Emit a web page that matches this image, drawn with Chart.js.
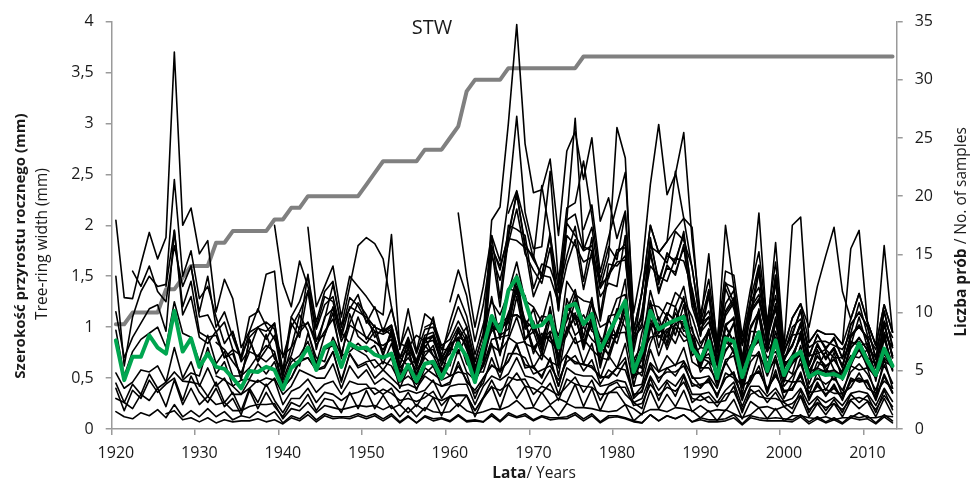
<!DOCTYPE html>
<html>
<head>
<meta charset="utf-8">
<title>STW</title>
<script src="https://cdn.jsdelivr.net/npm/chart.js@4.4.1/dist/chart.umd.min.js"></script>
<style>
  html, body { margin: 0; padding: 0; background: #fff; }
  #wrap { width: 973px; height: 484px; }
</style>
</head>
<body>
<div id="wrap"><canvas id="c" width="973" height="484"></canvas></div>
<script>
'use strict';

// ---------- data ----------
const chartTitle = 'STW';
const years = [];
for (let y = 1920; y <= 2013; y++) years.push(y);

// liczba prób / no. of samples
const sampleCount = [
  9, 9, 10, 10, 10, 10, 12, 12, 13, 14,
  14, 14, 16, 16, 17, 17, 17, 17, 17, 18,
  18, 19, 19, 20, 20, 20, 20, 20, 20, 20,
  21, 22, 23, 23, 23, 23, 23, 24, 24, 24,
  25, 26, 29, 30, 30, 30, 30, 31, 31, 31,
  31, 31, 31, 31, 31, 31, 32, 32, 32, 32,
  32, 32, 32, 32, 32, 32, 32, 32, 32, 32,
  32, 32, 32, 32, 32, 32, 32, 32, 32, 32,
  32, 32, 32, 32, 32, 32, 32, 32, 32, 32,
  32, 32, 32, 32
];

// chronologia średnia (mm)
const meanWidth = [
  0.87, 0.48, 0.71, 0.71, 0.92, 0.80, 0.74, 1.16, 0.76, 0.89,
  0.61, 0.74, 0.61, 0.59, 0.50, 0.40, 0.57, 0.56, 0.61, 0.58,
  0.39, 0.60, 0.67, 0.80, 0.58, 0.80, 0.85, 0.61, 0.84, 0.79,
  0.80, 0.73, 0.70, 0.74, 0.48, 0.63, 0.47, 0.64, 0.66, 0.50,
  0.67, 0.84, 0.71, 0.46, 0.80, 1.11, 0.96, 1.36, 1.49, 1.26,
  1.00, 1.02, 1.11, 0.80, 1.20, 1.23, 1.03, 1.13, 0.77, 0.94,
  1.10, 1.26, 0.56, 0.77, 1.16, 0.98, 1.03, 1.07, 1.10, 0.79,
  0.68, 0.86, 0.50, 0.89, 0.86, 0.51, 0.76, 0.95, 0.57, 0.87,
  0.53, 0.70, 0.76, 0.51, 0.56, 0.53, 0.54, 0.50, 0.67, 0.84,
  0.67, 0.53, 0.79, 0.62
];

// first year of each sample
const ringStart = [
  1920, 1920, 1920, 1920, 1920, 1920, 1920, 1920, 1920, 1922,
  1926, 1926, 1928, 1929, 1932, 1932, 1934, 1939, 1941, 1943,
  1950, 1951, 1952, 1957, 1960, 1961, 1962, 1962, 1962, 1963,
  1967, 1976
];

// szerokość przyrostów poszczególnych prób (0.01 mm), od roku ringStart do 2013
const ringWidths = [
  [205,129,128,162,193,167,188,370,200,217, 172,185,115,147,128,80,96,118,101,88,
   72,80,112,96,64,92,120,95,84,110, 88,102,74,95,70,62,68,90,72,55, 80,74,92,52,70,
   110,92,98,140,88,102,76,118,80,96,126,84,112,90,72, 96,118,60,52,84,104,78,100,86,90,
   70,66,58,92,74,62,82,88,70,76, 60,54,82,44,66,60,48,58,72,70,78,52,66,62],
  [150,62,110,135,150,140,142,245,150,175, 128,140,110,84,96,66,78,100,88,104,
   58,110,98,152,86,108,142,102,118,132, 104,120,96,118,84,80,92,86,110,70, 84,88,100,62,70,
   98,104,110,152,100,118,86,96,88,106,132,90,124,70,108, 90,128,70,60,98,110,84,120,96,100,
   62,98,48,88,104,64,78,118,58,96, 64,70,92,56,60,76,58,52,84,86,70,64,92,58],
  [115,70,90,104,118,122,96,195,112,130, 90,84,96,70,74,50,88,66,78,92,
   48,70,62,94,70,66,90,72,76,84, 76,82,64,84,56,60,54,70,62,60, 52,78,56,48,62,
   84,56,90,84,86,60,74,66,62,74,90,64,84,50,72, 60,84,42,44,78,56,72,62,80,50,
   50,52,40,66,52,42,48,74,36,68, 36,40,54,30,44,34,42,30,48,48,46,30,54,36],
  [97,52,76,88,94,100,80,125,94,90, 66,92,64,76,52,52,60,72,66,74,
   40,50,68,70,58,60,76,46,74,60, 64,50,58,50,42,44,40,52,46,42, 44,66,46,38,50,
   62,58,66,84,60,62,50,70,42,72,64,64,60,52,50, 60,58,34,36,64,46,60,52,66,42,
   44,46,34,50,56,28,52,56,40,52, 38,38,56,28,46,32,44,28,50,46,48,28,52,36],
  [55,40,46,58,56,62,46,80,50,66, 42,60,42,50,34,34,40,48,42,50,
   34,42,58,54,50,50,64,40,62,50, 58,44,50,44,36,38,35,38,48,30, 42,44,44,24,42,
   52,48,54,70,52,50,44,58,34,60,54,52,52,42,44, 48,46,26,30,52,38,48,42,54,34,
   34,36,26,38,46,22,42,42,32,40, 27,30,40,24,32,26,31,23,35,37,35,23,40,27],
  [45,26,44,34,54,40,46,56,47,46, 44,32,46,26,36,18,40,26,44,28,
   16,30,30,40,26,36,34,28,34,36, 40,40,34,40,24,36,22,36,31,28, 32,33,33,18,31,
   48,32,51,48,49,34,42,38,33,42,51,36,48,28,42, 46,34,26,20,50,28,46,32,52,26,
   33,26,26,28,42,16,39,32,30,30, 26,20,38,16,30,18,29,16,34,26,33,16,38,19],
  [40,18,38,30,48,36,44,50,28,52, 36,26,40,22,30,14,38,20,36,22,
   12,26,22,34,18,30,28,16,36,20, 38,20,33,20,24,16,24,18,31,13, 32,22,33,12,30,
   42,20,44,30,42,22,36,24,30,26,44,22,40,18,36, 36,24,20,14,38,20,34,22,38,17,
   23,17,19,18,29,10,27,21,22,19, 22,15,32,12,25,14,25,12,28,20,27,12,30,14],
  [30,26,20,34,28,40,22,48,24,40, 24,32,24,26,18,18,22,24,24,25,
   10,20,18,26,16,23,21,19,21,23, 22,23,19,23,12,21,12,21,17,16, 17,25,18,15,17,
   20,19,22,28,20,21,17,23,13,25,21,21,20,18,17, 18,24,8,15,19,19,17,21,20,18,
   11,18,8,19,15,11,14,21,10,20, 8,13,13,11,10,12,9,11,11,16,11,11,13,12],
  [17,12,10,16,13,19,11,24,12,18, 12,20,12,17,9,13,11,17,12,17,
   6,13,10,17,9,15,12,12,12,15, 12,15,10,15,7,13,6,13,10,11, 8,14,8,9,7,
   15,8,16,12,15,9,13,11,11,12,16,10,15,7,13, 13,11,8,6,14,8,13,10,14,7,
   11,9,9,10,14,5,13,11,10,11, 10,9,14,7,12,7,11,6,13,11,13,6,14,8],
  [155,140,160,135,125,180,140,160, 110,112,95,105,78,72,90,99,96,104,
   52,104,90,136,78,110,118,86,104,124, 112,90,99,92,70,78,66,80,92,62, 82,90,86,50,80,
   96,100,104,146,98,106,80,120,66,128,102,112,96,90,80, 112,100,62,60,118,80,110,92,122,72,
   80,78,64,84,104,46,96,95,76,90, 66,66,96,50,78,55,75,48,86,82,84,47,95,57],
  [15,18,9,11, 7,11,6,9,7,8,8,10,7,9,
   5,11,8,14,7,13,10,11,10,13, 10,13,8,13,6,12,6,12,8,10, 7,13,7,8,7,
   13,7,14,11,13,8,12,9,10,10,14,8,13,6,11, 12,10,7,6,14,8,13,10,14,7,
   9,7,7,8,11,4,11,9,8,8, 8,7,12,5,10,6,9,5,11,9,10,5,12,6],
  [140,195,120,145, 95,90,92,70,78,48,88,66,93,69,
   58,72,100,104,88,92,114,69,113,91, 84,96,72,98,50,80,49,82,72,66, 62,90,64,56,56,
   82,76,88,110,84,80,68,94,52,100,84,88,78,70,68, 94,95,52,56,103,72,96,84,106,66,
   60,60,48,64,78,34,72,72,57,68, 48,46,70,34,56,38,54,33,62,58,60,33,69,40],
  [48,55, 52,80,54,66,42,48,49,64,54,66,
   40,50,66,70,58,62,76,48,74,62, 66,68,58,70,40,60,38,60,54,48, 52,56,54,30,50,
   63,56,67,82,63,60,52,68,42,72,66,63,62,50,52, 60,70,32,42,65,56,60,63,67,52,
   42,48,33,50,55,30,51,57,39,54, 36,40,52,31,42,34,40,30,46,50,45,30,52,35],
  [160, 115,150,100,115,90,68,95,100,105,98,
   52,80,95,105,82,96,108,74,102,96, 90,86,78,92,60,70,58,72,82,56, 66,88,68,50,62,
   88,90,92,130,88,96,72,108,60,114,92,100,88,80,74, 96,118,54,68,108,90,98,102,112,82,
   60,82,46,86,78,52,72,96,54,90, 46,68,72,54,54,58,54,52,62,82,60,52,70,60],
  [85,78,66,55,76,72,82,76,
   44,66,72,86,62,78,82,60,82,77, 72,60,66,62,46,52,44,54,62,42, 46,62,48,35,45,
   70,50,74,74,70,54,58,62,48,66,72,57,68,44,58, 52,66,30,38,60,50,56,56,62,45,
   40,50,31,55,50,33,46,62,35,58, 30,46,47,36,37,39,35,35,41,55,40,35,47,40],
  [52,48,42,34,48,46,50,48,
   24,37,41,49,36,44,47,34,47,44, 44,34,39,35,28,30,27,31,37,23, 32,33,33,18,31,
   41,38,44,55,42,40,35,45,28,49,44,42,41,34,35, 41,41,23,25,44,33,41,37,46,30,
   28,32,22,34,37,19,34,38,26,36, 22,25,33,19,26,21,25,19,29,31,28,19,33,22],
  [95,70,110,115,152,155,
   70,100,115,135,98,122,130,94,129,121, 106,96,93,98,64,84,62,85,87,67, 77,96,81,53,75,
   104,74,110,112,105,80,89,91,72,98,110,84,104,65,90, 94,118,50,74,104,96,95,107,105,87,
   56,66,42,68,72,40,66,76,52,72, 42,52,64,40,50,44,50,38,56,64,54,38,63,45],
  [200,
   143,120,165,140,100,130,125,90,120,115, 110,100,96,102,70,88,64,88,92,68, 84,100,86,56,80,
   106,74,110,112,106,78,90,90,78,96,110,82,106,64,92, 92,118,50,78,102,102,90,114,100,92,
   68,74,52,78,86,44,78,86,62,82, 50,64,74,50,58,56,56,50,64,78,62,50,74,58],
  [110,125,150,105,135,145,100,140,180,
   188,182,167,120,80,100,74,98,100,78, 78,95,82,52,76,
   107,92,114,134,107,98,89,111,70,118,112,103,104,82,88, 118,116,66,70,124,94,114,106,128,84,
   66,98,46,102,84,64,78,114,58,106, 62,72,90,56,72,61,69,54,80,89,78,53,90,62],
  [198,120,140,160,110,150,140,
   130,118,112,191,78,118,76,113,106,82, 88,106,90,60,86,
   130,88,138,135,131,94,111,109,92,117,137,100,129,77,111, 113,147,55,95,122,120,111,134,126,110,
   84,96,66,101,110,57,101,115,79,107, 70,81,104,62,84,68,80,60,92,100,90,60,104,70],
  [110,100,96,102,70,90,66,92,95,72, 105,132,111,73,103,
   125,112,134,164,126,120,105,135,83,145,132,126,124,100,105, 128,132,68,82,136,106,124,120,140,96,
   80,98,62,103,108,60,98,116,76,110, 68,83,102,64,82,70,78,62,90,101,88,62,102,72],
  [85,82,88,56,75,54,76,78,58, 66,86,70,48,64,
   104,72,112,112,106,74,94,86,78,92,114,78,108,60,94, 84,112,42,74,90,92,82,104,92,86,
   70,70,54,76,90,42,82,86,64,84, 50,66,76,52,60,56,58,50,66,82,64,50,76,60],
  [95,100,62,86,60,88,90,66, 74,98,78,54,74,
   100,96,108,138,102,102,84,114,68,122,108,106,100,86,84, 116,118,64,70,126,94,114,106,130,84,
   62,96,48,100,86,62,78,112,58,106, 60,73,90,57,71,62,68,55,79,90,77,54,88,63],
  [100,104,78, 96,120,101,66,94,
   176,120,187,185,178,130,151,149,124,161,186,137,175,106,151, 164,166,90,100,175,133,161,151,181,120,
   95,105,75,111,124,62,114,126,89,118, 70,82,104,62,82,70,80,62,90,102,88,62,104,72],
  [125,156,131,86,122,
   178,160,188,233,178,170,148,192,117,206,305,179,175,143,148, 176,178,97,108,188,142,173,162,194,129,
   92,131,65,138,118,84,108,154,80,145, 66,92,94,72,74,78,70,70,82,110,80,70,94,80],
  [212,150,100,140,
   190,128,200,196,190,138,162,158,134,170,199,145,188,111,162, 160,170,86,104,172,136,158,154,178,124,
   103,110,78,116,129,65,119,132,93,123, 78,92,117,71,93,78,90,69,103,114,101,68,116,80],
  [101,66,94,
   205,218,300,397,280,232,235,265,190,273,292,245,286,204,227, 187,214,97,134,200,173,184,196,207,158,
   104,136,80,143,139,84,127,161,97,151, 80,109,123,85,97,93,93,83,108,133,105,82,122,95],
  [91,59,85,
   190,165,224,307,213,177,179,253,144,217,222,263,209,146,179, 166,212,81,136,179,173,163,194,185,159,
   104,116,82,123,136,69,125,139,97,131, 76,94,116,72,92,80,88,70,102,115,100,70,115,82],
  [80,55,76,
   180,156,192,230,182,166,152,188,122,202,190,175,180,138,152, 172,182,92,112,184,146,170,166,190,134,
   91,137,65,144,124,82,114,160,82,151, 74,100,108,80,86,86,82,78,94,124,92,78,106,90],
  [46,66,
   170,146,182,216,172,156,143,178,116,190,180,164,169,130,143, 140,190,76,116,160,150,145,168,165,138,
   98,110,76,114,126,64,116,128,90,120, 68,82,102,64,82,70,78,62,92,102,88,60,104,70],
  [212,234,202,167,239,191,137,205,211,176,198,139,169, 296,266,97,134,200,173,184,253,207,198,
   104,172,80,200,139,84,127,212,97,183, 80,200,208,85,97,93,93,83,177,195,105,82,180,95],
  [196,220,154,188, 220,252,114,158,240,299,230,250,291,186,
   113,147,87,155,151,91,138,174,105,164, 80,109,123,100,140,170,198,135,108,133,105,82,122,95]
];

// ---------- labels ----------
const yTitleBold = 'Szerokość przyrostu rocznego (mm)';
const yTitle = 'Tree-ring width (mm)';
const y1TitleBold = 'Liczba prób';
const y1Title = ' / No. of samples';
const xTitleBold = 'Lata';
const xTitle = '/ Years';

const FONT = "'Open Sans', sans-serif";
const axisGray = '#9a9a9a';
const textColor = '#1a1a1a';

Chart.defaults.font.family = FONT;
Chart.defaults.color = textColor;

// ---------- datasets ----------
const blackSets = ringWidths.map((vals, k) => ({
  data: years.map((y) => {
    const i = y - ringStart[k];
    return i >= 0 && i < vals.length ? vals[i] / 100 : null;
  }),
  borderColor: '#000000',
  borderWidth: 1.6,
  yAxisID: 'y',
  order: 2
}));

const datasets = [
  { data: sampleCount, borderColor: '#808080', borderWidth: 4, yAxisID: 'y1', order: 3 },
  ...blackSets,
  { data: meanWidth, borderColor: '#00a650', borderWidth: 4, yAxisID: 'y', order: 1 }
];

// bold + regular pieces centred on (0,0) of the current transform
function mixedText(c, parts, size) {
  let total = 0;
  parts.forEach((p) => { c.font = `${p.bold ? 'bold ' : ''}${size}px ${FONT}`; p.w = c.measureText(p.t).width; total += p.w; });
  let x = -total / 2;
  c.textAlign = 'left';
  parts.forEach((p) => { c.font = `${p.bold ? 'bold ' : ''}${size}px ${FONT}`; c.fillText(p.t, x, 0); x += p.w; });
}

const textPlugin = {
  id: 'texts',
  afterDraw(chart) {
    const c = chart.ctx;
    c.save();
    c.fillStyle = textColor;
    c.textBaseline = 'middle';
    c.textAlign = 'center';
    c.font = `20px ${FONT}`;
    c.fillText(chartTitle, 432, 28);

    c.save();
    c.translate(21, 246); c.rotate(-Math.PI / 2);
    mixedText(c, [{ t: yTitleBold, bold: true }], 15);
    c.restore();

    c.save();
    c.translate(43, 244); c.rotate(-Math.PI / 2);
    mixedText(c, [{ t: yTitle }], 15.5);
    c.restore();

    c.save();
    c.translate(962, 232); c.rotate(-Math.PI / 2);
    mixedText(c, [{ t: y1TitleBold, bold: true }, { t: y1Title }], 15.5);
    c.restore();

    c.save();
    c.translate(534, 474);
    mixedText(c, [{ t: xTitleBold, bold: true }, { t: xTitle }], 15.5);
    c.restore();
    c.restore();
  }
};

new Chart(document.getElementById('c'), {
  type: 'line',
  data: { labels: years, datasets },
  options: {
    responsive: false,
    animation: false,
    layout: { padding: { top: 20, left: 0, right: 0, bottom: 0 } },
    plugins: { legend: { display: false }, tooltip: { enabled: false } },
    elements: {
      point: { radius: 0 },
      line: { tension: 0, borderJoinStyle: 'round', borderCapStyle: 'round', fill: false }
    },
    scales: {
      x: {
        type: 'category',
        offset: true,
        grid: {
          offset: true, drawOnChartArea: false, tickLength: 6, lineWidth: 1.5,
          color: (ctx) => (ctx.tick && years[ctx.index] % 10 === 0) ? axisGray : 'rgba(0,0,0,0)'
        },
        border: { color: axisGray, width: 1.5 },
        ticks: {
          autoSkip: false, maxRotation: 0, minRotation: 0, padding: 9,
          font: { size: 16 }, color: textColor,
          callback: (v, i) => (years[i] % 10 === 0 ? String(years[i]) : '')
        },
        afterFit: (s) => { s.height = 55; }
      },
      y: {
        position: 'left',
        min: 0, max: 4,
        grid: { drawOnChartArea: false, tickLength: 6, color: axisGray, lineWidth: 1.5 },
        border: { color: axisGray, width: 1.5 },
        ticks: {
          stepSize: 0.5, padding: 12, font: { size: 16 }, color: textColor,
          callback: (v) => String(v).replace('.', ',')
        },
        afterFit: (s) => { s.width = 111.7; }
      },
      y1: {
        position: 'right',
        min: 0, max: 35,
        grid: { drawOnChartArea: false, tickLength: 6, color: axisGray, lineWidth: 1.5 },
        border: { color: axisGray, width: 1.5 },
        ticks: { stepSize: 5, padding: 12, font: { size: 16 }, color: textColor },
        afterFit: (s) => { s.width = 76.3; }
      }
    }
  },
  plugins: [textPlugin]
});
</script>
</body>
</html>
